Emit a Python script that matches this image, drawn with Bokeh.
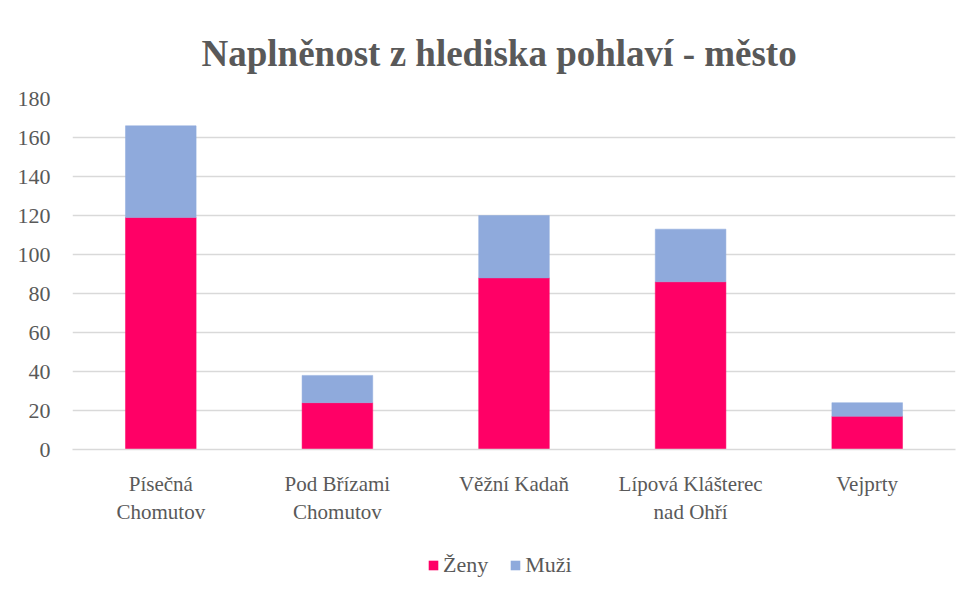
from bokeh.plotting import figure
from bokeh.models import ColumnDataSource, Legend, LegendItem, Range1d
from bokeh.layouts import column
from bokeh.embed import file_html
from bokeh.resources import INLINE

categories = ["Písečná\nChomutov", "Pod Břízami\nChomutov", "Věžní Kadaň",
              "Lípová Klášterec\nnad Ohří", "Vejprty"]
zeny = [119, 24, 88, 86, 17]
muzi = [47, 14, 32, 27, 7]
series = ["zeny", "muzi"]
series_labels = ["Ženy", "Muži"]
colors = ["#FF0066", "#8FAADC"]
y_ticks = [0, 20, 40, 60, 80, 100, 120, 140, 160, 180]

FONT = "Liberation Serif"
TXT = "#595959"

source = ColumnDataSource(data=dict(cat=categories, zeny=zeny, muzi=muzi))

p = figure(x_range=categories, y_range=(0, 180), width=963, height=533,
           output_backend="svg", toolbar_location=None,
           min_border_left=72, min_border_right=8, min_border_top=98,
           min_border_bottom=84)

r = p.vbar_stack(series, x="cat", width=0.4, color=colors, source=source,
                 line_color=colors, line_width=0.5)

p.title.text = "Naplněnost z hlediska pohlaví - město"
p.title.align = "left"
p.title.offset = 129
p.title.text_font = FONT
p.title.text_font_size = "37px"
p.title.text_font_style = "bold"
p.title.text_color = TXT
p.title.standoff = 50

p.outline_line_color = None
p.xgrid.grid_line_color = None
p.ygrid.grid_line_color = "#D9D9D9"
p.ygrid.grid_line_width = 1.5
p.yaxis.ticker = y_ticks
p.yaxis.axis_line_color = None
p.yaxis.major_tick_line_color = None
p.yaxis.minor_tick_line_color = None
p.yaxis.major_label_text_font = FONT
p.yaxis.major_label_text_font_size = "22px"
p.yaxis.major_label_text_color = TXT
p.yaxis.major_label_standoff = 16

p.xaxis.axis_line_color = "#D9D9D9"
p.xaxis.axis_line_width = 1.5
p.xaxis.major_tick_line_color = None
p.xaxis.minor_tick_line_color = None
p.xaxis.major_label_text_font = FONT
p.xaxis.major_label_text_font_size = "21px"
p.xaxis.major_label_text_color = TXT
p.xaxis.major_label_standoff = 16
p.x_range.range_padding = 0

# legend strip below the chart: same stacked data, kept out of view,
# only used to give the legend its swatches
lg = figure(width=963, height=45, output_backend="svg", toolbar_location=None,
            x_range=categories, y_range=Range1d(100000, 100001),
            min_border_left=0, min_border_right=0, min_border_top=0, min_border_bottom=0)
lg.axis.visible = False
lg.grid.visible = False
lg.outline_line_color = None
r2 = lg.vbar_stack(series, x="cat", width=0.001, fill_color=colors, source=source,
                   line_color=None)

legend = Legend(items=[LegendItem(label=series_labels[i], renderers=[r2[i]]) for i in range(2)],
                orientation="horizontal", location=(355, 0),
                label_text_font=FONT, label_text_font_size="22px", label_text_color=TXT,
                glyph_width=12, glyph_height=12, spacing=21, label_standoff=4,
                border_line_color=None, background_fill_alpha=0, margin=0, padding=4)
lg.add_layout(legend, "center")

layout = column(p, lg, spacing=0)
open("out.html", "w").write(file_html(layout, INLINE))
